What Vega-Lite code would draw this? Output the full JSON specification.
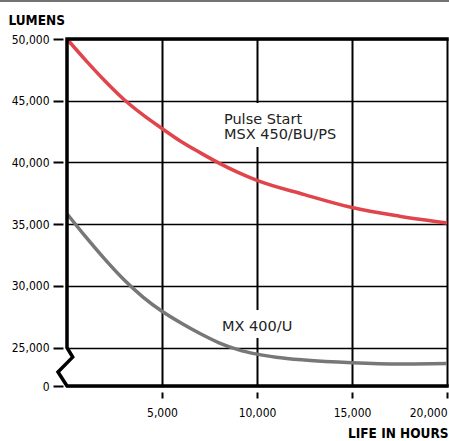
{
  "$schema": "https://vega.github.io/schema/vega-lite/v6.json",
  "width": 380,
  "height": 347,
  "autosize": "none",
  "padding": {"left": 67, "top": 39, "right": 2, "bottom": 55},
  "background": "white",
  "config": {"view": {"stroke": null}},
  "datasets": {
    "curves": [
      {"series": "Pulse Start MSX 450/BU/PS", "hours": 0, "lumens": 50000},
      {"series": "Pulse Start MSX 450/BU/PS", "hours": 1000, "lumens": 48250},
      {"series": "Pulse Start MSX 450/BU/PS", "hours": 2000, "lumens": 46600},
      {"series": "Pulse Start MSX 450/BU/PS", "hours": 3000, "lumens": 45100},
      {"series": "Pulse Start MSX 450/BU/PS", "hours": 4000, "lumens": 43850},
      {"series": "Pulse Start MSX 450/BU/PS", "hours": 5000, "lumens": 42750},
      {"series": "Pulse Start MSX 450/BU/PS", "hours": 6000, "lumens": 41700},
      {"series": "Pulse Start MSX 450/BU/PS", "hours": 7000, "lumens": 40800},
      {"series": "Pulse Start MSX 450/BU/PS", "hours": 8000, "lumens": 39950},
      {"series": "Pulse Start MSX 450/BU/PS", "hours": 9000, "lumens": 39200},
      {"series": "Pulse Start MSX 450/BU/PS", "hours": 10000, "lumens": 38550},
      {"series": "Pulse Start MSX 450/BU/PS", "hours": 12500, "lumens": 37400},
      {"series": "Pulse Start MSX 450/BU/PS", "hours": 15000, "lumens": 36350},
      {"series": "Pulse Start MSX 450/BU/PS", "hours": 17500, "lumens": 35650},
      {"series": "Pulse Start MSX 450/BU/PS", "hours": 20000, "lumens": 35100},
      {"series": "MX 400/U", "hours": 0, "lumens": 35850},
      {"series": "MX 400/U", "hours": 1000, "lumens": 33950},
      {"series": "MX 400/U", "hours": 2000, "lumens": 32150},
      {"series": "MX 400/U", "hours": 3000, "lumens": 30500},
      {"series": "MX 400/U", "hours": 4000, "lumens": 29100},
      {"series": "MX 400/U", "hours": 5000, "lumens": 27950},
      {"series": "MX 400/U", "hours": 6000, "lumens": 27000},
      {"series": "MX 400/U", "hours": 7000, "lumens": 26150},
      {"series": "MX 400/U", "hours": 8000, "lumens": 25400},
      {"series": "MX 400/U", "hours": 9000, "lumens": 24850},
      {"series": "MX 400/U", "hours": 10000, "lumens": 24480},
      {"series": "MX 400/U", "hours": 11000, "lumens": 24230},
      {"series": "MX 400/U", "hours": 12500, "lumens": 24000},
      {"series": "MX 400/U", "hours": 15000, "lumens": 23780},
      {"series": "MX 400/U", "hours": 17500, "lumens": 23680},
      {"series": "MX 400/U", "hours": 20000, "lumens": 23720}
    ],
    "labels": [
      {"label": "Pulse Start\nMSX 450/BU/PS", "hours": 8260, "lumens": 43115, "h0": 7950, "h1": 14890, "l0": 44816, "l1": 41252},
      {"label": "MX 400/U", "hours": 8160, "lumens": 26350, "h0": 7800, "h1": 12530, "l0": 28050, "l1": 25780}
    ],
    "frame": [
      {"o": 1, "hours": 20000, "lumens": 50000},
      {"o": 2, "hours": 0, "lumens": 50000},
      {"o": 3, "hours": 0, "lumens": 25000},
      {"o": 4, "hours": 300, "lumens": 24240},
      {"o": 5, "hours": -474, "lumens": 23030},
      {"o": 6, "hours": 0, "lumens": 21900},
      {"o": 7, "hours": 20000, "lumens": 21900}
    ],
    "topline": [
      {"o": 1, "hours": -3530, "lumens": 53075},
      {"o": 2, "hours": 20110, "lumens": 53075}
    ]
  },
  "layer": [
    {
      "data": {"name": "labels"},
      "mark": {"type": "rect", "fill": "white", "stroke": null},
      "encoding": {
        "x": {
          "field": "h0", "type": "quantitative",
          "scale": {"domain": [0, 20000], "nice": false, "zero": false},
          "axis": {
            "values": [5000, 10000, 15000, 20000],
            "labelExpr": "format(datum.value, ',')",
            "grid": true, "gridColor": "black", "gridWidth": 2, "gridOpacity": 1,
            "domain": false,
            "ticks": true, "tickSize": 6, "tickWidth": 2, "tickColor": "black",
            "offset": 6, "labelPadding": 9,
            "labelFont": "DejaVu Sans Condensed, DejaVu Sans, sans-serif",
            "labelFontSize": 12, "labelColor": "black",
            "title": "LIFE IN HOURS",
            "titleFont": "DejaVu Sans Condensed, DejaVu Sans, sans-serif",
            "titleFontSize": 13.5, "titleFontWeight": "bold", "titleColor": "black",
            "titleAlign": "right", "titleBaseline": "alphabetic", "titleX": 381, "titleY": 45, "titleAngle": 0
          }
        },
        "x2": {"field": "h1"},
        "y": {
          "field": "l0", "type": "quantitative",
          "scale": {"domain": [21900, 50000], "nice": false, "zero": false},
          "axis": {
            "values": [21900, 25000, 30000, 35000, 40000, 45000, 50000],
            "labelExpr": "datum.value < 22000 ? '0' : format(datum.value, ',')",
            "grid": true, "gridColor": "black", "gridWidth": 1.5, "gridOpacity": 1,
            "domain": false,
            "ticks": true, "tickSize": 10, "tickWidth": 2, "tickColor": "black",
            "offset": 4, "labelPadding": 4,
            "labelFont": "DejaVu Sans Condensed, DejaVu Sans, sans-serif",
            "labelFontSize": 12, "labelColor": "black",
            "title": "LUMENS",
            "titleFont": "DejaVu Sans Condensed, DejaVu Sans, sans-serif",
            "titleFontSize": 13.5, "titleFontWeight": "bold", "titleColor": "black",
            "titleAlign": "left", "titleBaseline": "alphabetic", "titleX": -55, "titleY": -15, "titleAngle": 0
          }
        },
        "y2": {"field": "l1"}
      }
    },
    {
      "data": {"name": "curves"},
      "mark": {"type": "line", "interpolate": "monotone", "strokeWidth": 3.5, "strokeCap": "butt"},
      "encoding": {
        "x": {"field": "hours", "type": "quantitative"},
        "y": {"field": "lumens", "type": "quantitative"},
        "color": {
          "field": "series", "type": "nominal",
          "scale": {"domain": ["Pulse Start MSX 450/BU/PS", "MX 400/U"], "range": ["#e0454b", "#777777"]},
          "legend": null
        }
      }
    },
    {
      "data": {"name": "frame"},
      "mark": {"type": "line", "color": "black", "strokeWidth": 3.5, "strokeJoin": "miter", "strokeCap": "square"},
      "encoding": {
        "x": {"field": "hours", "type": "quantitative"},
        "y": {"field": "lumens", "type": "quantitative"},
        "order": {"field": "o", "type": "quantitative"}
      }
    },
    {
      "data": {"name": "labels"},
      "mark": {"type": "text", "align": "left", "baseline": "alphabetic", "lineBreak": "\n", "lineHeight": 15, "font": "DejaVu Sans", "fontSize": 14.5, "color": "#222222"},
      "encoding": {
        "x": {"field": "hours", "type": "quantitative"},
        "y": {"field": "lumens", "type": "quantitative"},
        "text": {"field": "label"}
      }
    },
    {
      "data": {"name": "topline"},
      "mark": {"type": "line", "color": "#444444", "strokeWidth": 1.5, "clip": false},
      "encoding": {
        "x": {"field": "hours", "type": "quantitative"},
        "y": {"field": "lumens", "type": "quantitative"},
        "order": {"field": "o", "type": "quantitative"}
      }
    }
  ]
}
